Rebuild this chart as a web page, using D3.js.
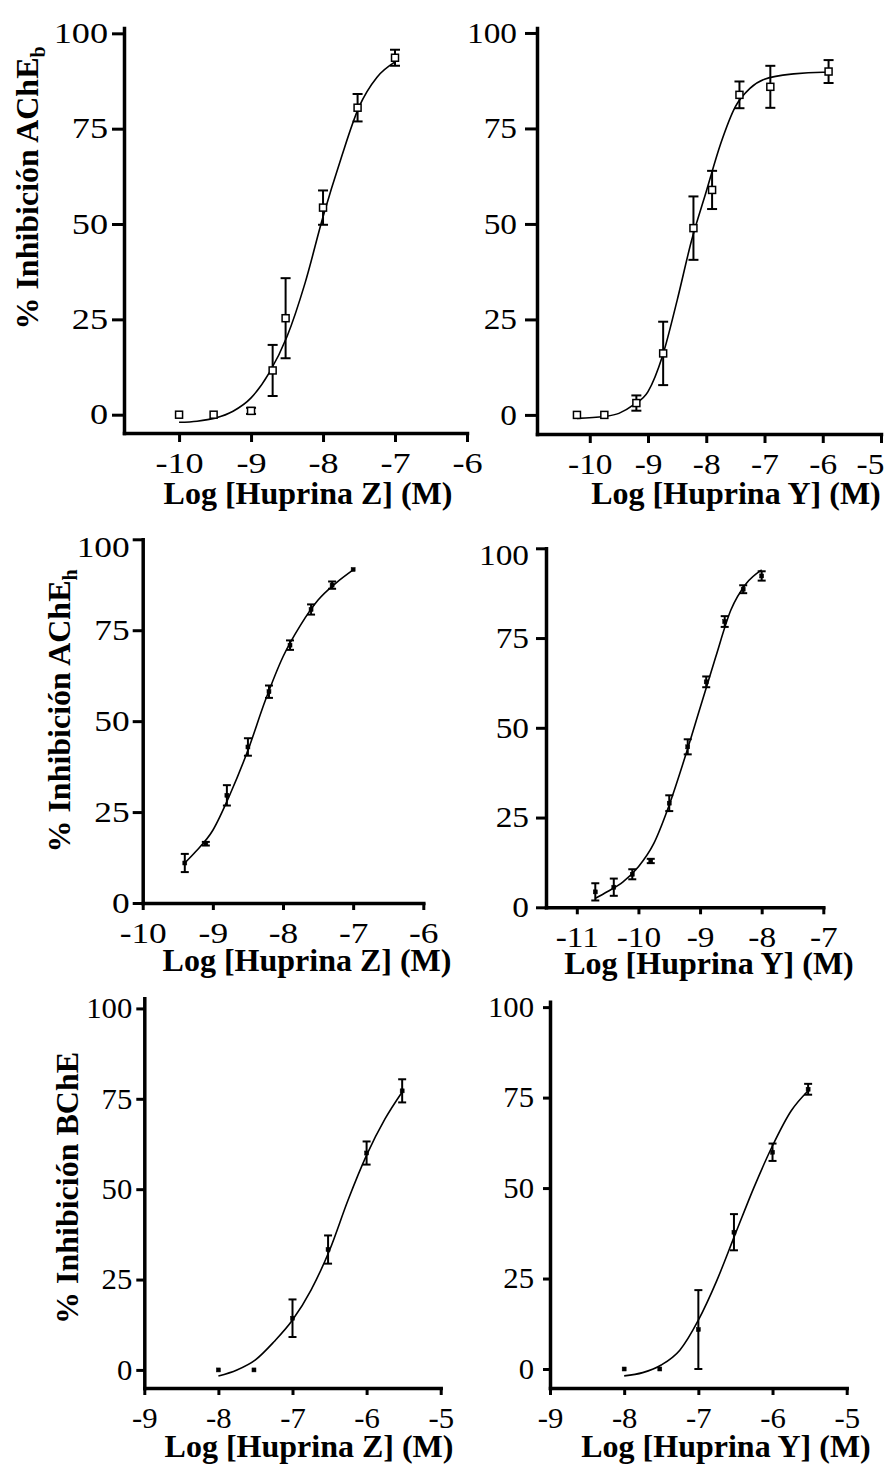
<!DOCTYPE html>
<html lang="es">
<head>
<meta charset="UTF-8">
<title>% Inhibición AChE / BChE - Huprinas</title>
<script src="https://d3js.org/d3.v7.min.js"></script>
<style>
  body { margin: 0; background: #fff; }
  svg { display: block; font-family: "Liberation Serif", "Times New Roman", serif; }
</style>
</head>
<body>
<svg width="889" height="1465"></svg>
<script>
// ---- values ----
const yTickVals = [0, 25, 50, 75, 100];

// AChE bovina - Huprina Z
const bovZx = [-10, -9.52, -9, -8.7, -8.52, -8, -7.52, -7];
const bovZy = [0, 0, 1, 11.6, 25.3, 54.3, 80.5, 93.6];
const bovZe = [0, 0, 0.8, 6.7, 10.5, 4.5, 3.6, 2.1];
const bovZfitX = [-10, -9.75, -9.5, -9.25, -9, -8.75, -8.5, -8.25, -8, -7.75, -7.5, -7.25, -7];
const bovZfitY = [-2.0, -1.7, -0.9, 0.9, 4.4, 10.9, 20.5, 34.5, 51.9, 67.2, 80.7, 88.5, 92.5];

// AChE bovina - Huprina Y
const bovYx = [-10.22, -9.75, -9.2, -8.74, -8.22, -7.9, -7.43, -6.9, -5.9];
const bovYy = [0, 0, 3.1, 16.1, 48.9, 58.9, 83.8, 85.9, 89.9];
const bovYe = [0, 0, 2, 8.3, 8.3, 5, 3.5, 5.5, 3];
const bovYfitX = [-10.22, -9.75, -9.5, -9.25, -9, -8.75, -8.5, -8.25, -8, -7.75, -7.5, -7.25, -7, -6.5, -6, -5.9];
const bovYfitY = [-0.9, -0.4, 0.4, 2.6, 6.1, 15.5, 30, 45.8, 58.5, 71.1, 80.7, 85.5, 87.9, 89.3, 89.7, 89.7];

// AChE humana - Huprina Z
const humZx = [-9.4, -9.1, -8.8, -8.5, -8.2, -7.9, -7.6, -7.3, -7.0];
const humZy = [11.0, 16.3, 29.6, 42.9, 58.1, 70.9, 80.7, 87.4, 91.7];
const humZe = [2.5, 0.5, 2.8, 2.4, 1.7, 1.3, 1.4, 1.0, 0];
const humZfitX = [-9.4, -9.25, -9, -8.75, -8.5, -8.25, -8, -7.75, -7.5, -7.25, -7];
const humZfitY = [11, 14, 20, 30.1, 42, 55.8, 67.7, 76.4, 83.3, 87.9, 91.6];

// AChE humana - Huprina Y
const humYx = [-10.7, -10.4, -10.1, -9.8, -9.5, -9.2, -8.9, -8.6, -8.3, -8.0];
const humYy = [4.3, 5.6, 9.2, 12.9, 29, 44.7, 62.8, 79.6, 88.6, 92.3];
const humYe = [2.4, 2.4, 1.4, 0.6, 2.2, 2.1, 1.5, 1.5, 1.1, 1.3];
const humYfitX = [-10.7, -10.5, -10.25, -10, -9.75, -9.5, -9.25, -9, -8.75, -8.5, -8.25, -8];
const humYfitY = [2.5, 4.4, 7.1, 11.3, 17.8, 28.5, 41.5, 55.5, 69.5, 82.8, 90.2, 94.0];

// BChE - Huprina Z
const buZx = [-8, -7.52, -7, -6.52, -6, -5.52];
const buZy = [0, 0, 14.3, 33.3, 60.0, 77.2];
const buZe = [0, 0, 5.2, 3.9, 3.2, 3.2];
const buZfitX = [-8, -7.75, -7.5, -7.25, -7, -6.75, -6.5, -6.25, -6, -5.75, -5.52];
const buZfitY = [-1.7, 0, 2.8, 7.8, 13.8, 22.1, 33.1, 47, 59.4, 69.5, 76.9];

// BChE - Huprina Y
const buYx = [-8, -7.52, -7, -6.52, -6, -5.52];
const buYy = [0, 0, 10.9, 37.8, 59.9, 77.3];
const buYe = [0, 0, 10.9, 5, 2.4, 1.5];
const buYfitX = [-8, -7.75, -7.5, -7.25, -7, -6.75, -6.5, -6.25, -6, -5.75, -5.52];
const buYfitY = [-1.9, -1.0, 1.1, 5.2, 13.5, 24.5, 37.4, 50.2, 61.7, 71.3, 76.9];

const xTitleZ = "Log [Huprina Z] (M)";
const xTitleY = "Log [Huprina Y] (M)";

// ---- layout of each panel ----
// sx: horizontal stretch of the tick numbers (the original figure is scaled unevenly)
const panels = [
  { x: bovZx, y: bovZy, e: bovZe, fx: bovZfitX, fy: bovZfitY, open: true,
    xDom: [-10.765, -6], yDom: [-4.8, 101.4], left: 124, right: 467, top: 28, bottom: 433,
    xTicks: [-10, -9, -8, -7, -6], ytl: 12, xtl: 9, pad: 4, sx: 1.25, cap: 5,
    xTitle: xTitleZ, xtPos: [308, 504] },
  { x: bovYx, y: bovYy, e: bovYe, fx: bovYfitX, fy: bovYfitY, open: true,
    xDom: [-10.906, -5], yDom: [-5, 101.3], left: 537, right: 881, top: 28, bottom: 434,
    xTicks: [-10, -9, -8, -7, -6, -5], ytl: 12, xtl: 9, pad: 8, sx: 1.15, cap: 5, lastShift: -11,
    xTitle: xTitleY, xtPos: [736, 504] },
  { x: humZx, y: humZy, e: humZe, fx: humZfitX, fy: humZfitY, open: false,
    xDom: [-10, -6], yDom: [0, 100], left: 142.7, right: 423.3, top: 539.3, bottom: 903,
    xTicks: [-10, -9, -8, -7, -6], ytl: 10, xtl: 7, pad: 3, sx: 1.22, cap: 4, topShift: 8,
    xTitle: xTitleZ, xtPos: [307, 971] },
  { x: humYx, y: humYy, e: humYe, fx: humYfitX, fy: humYfitY, open: false,
    xDom: [-11.5, -7], yDom: [0, 100], left: 546, right: 823.3, top: 548.3, bottom: 907.3,
    xTicks: [-11, -10, -9, -8, -7], ytl: 10, xtl: 7, pad: 7, sx: 1.15, cap: 4, topShift: 7,
    xTitle: xTitleY, xtPos: [709, 974] },
  { x: buZx, y: buZy, e: buZe, fx: buZfitX, fy: buZfitY, open: false,
    xDom: [-9, -5], yDom: [-5, 102.8], left: 144.3, right: 440.7, top: 998.3, bottom: 1388,
    xTicks: [-9, -8, -7, -6, -5], ytl: 8, xtl: 7, pad: 4, sx: 1.06, cap: 4,
    xTitle: xTitleZ, xtPos: [309, 1457] },
  { x: buYx, y: buYy, e: buYe, fx: buYfitX, fy: buYfitY, open: false,
    xDom: [-9, -5], yDom: [-5.25, 101.5], left: 550, right: 846.7, top: 1001.7, bottom: 1388,
    xTicks: [-9, -8, -7, -6, -5], ytl: 7, xtl: 7, pad: 9, sx: 1.06, cap: 4,
    xTitle: xTitleY, xtPos: [726, 1457] }
];

const yTitles = [
  { main: "% Inhibición AChE", sub: "b", pos: [38, 188] },
  { main: "% Inhibición AChE", sub: "h", pos: [70, 711] },
  { main: "% Inhibición BChE", sub: null, pos: [78, 1188] }
];

const svg = d3.select("svg");
const tickFont = 29;

function drawPanel(p) {
  const g = svg.append("g");
  const x = d3.scaleLinear().domain(p.xDom).range([p.left, p.right]);
  const y = d3.scaleLinear().domain(p.yDom).range([p.bottom, p.top]);

  // x axis
  const xa = g.append("g")
    .attr("transform", `translate(0,${p.bottom})`)
    .call(d3.axisBottom(x).tickValues(p.xTicks).tickSizeInner(p.xtl).tickSizeOuter(0)
      .tickFormat(d => String(d)));
  // y axis
  const ya = g.append("g")
    .attr("transform", `translate(${p.left},0)`)
    .call(d3.axisLeft(y).tickValues(yTickVals).tickSizeInner(p.ytl).tickSizeOuter(0)
      .tickPadding(p.pad).tickFormat(d => String(d)));

  [xa, ya].forEach(a => {
    a.attr("font-family", null).attr("font-size", null);
    a.select(".domain").attr("stroke-width", 3.5).attr("stroke-linecap", "square");
    a.selectAll(".tick line").attr("stroke-width", 3);
    a.selectAll(".tick text")
      .attr("font-size", tickFont)
      .attr("fill", "#000")
      .attr("transform", `scale(${p.sx},1)`);
  });
  const last = p.xTicks[p.xTicks.length - 1];
  xa.selectAll(".tick text")
    .attr("dy", null)
    .attr("y", 40)
    .attr("x", d => (d === last && p.lastShift) ? p.lastShift / p.sx : 0);
  ya.selectAll(".tick text")
    .attr("x", -(p.ytl + p.pad) / p.sx)
    .attr("dy", d => (d === 100 && p.topShift) ? `${0.32 * tickFont + p.topShift}px` : "0.32em");

  // fitted curve
  const fit = p.fx.map((v, i) => [v, p.fy[i]]);
  g.append("path")
    .datum(fit)
    .attr("fill", "none")
    .attr("stroke", "#000")
    .attr("stroke-width", 1.6)
    .attr("d", d3.line().x(d => x(d[0])).y(d => y(d[1])).curve(d3.curveMonotoneX));

  const pts = p.x.map((v, i) => ({ x: v, y: p.y[i], e: p.e[i] }));

  // error bars
  const eb = g.append("g").attr("stroke", "#000").attr("stroke-width", 2);
  pts.filter(d => d.e > 0).forEach(d => {
    const cx = x(d.x), y1 = y(d.y + d.e), y0 = y(d.y - d.e);
    eb.append("line").attr("x1", cx).attr("x2", cx).attr("y1", y1).attr("y2", y0);
    eb.append("line").attr("x1", cx - p.cap).attr("x2", cx + p.cap).attr("y1", y1).attr("y2", y1);
    eb.append("line").attr("x1", cx - p.cap).attr("x2", cx + p.cap).attr("y1", y0).attr("y2", y0);
  });

  // markers
  const s = p.open ? 7 : 4;
  g.append("g").selectAll("rect")
    .data(pts)
    .join("rect")
    .attr("x", d => x(d.x) - s / 2)
    .attr("y", d => y(d.y) - s / 2)
    .attr("width", s)
    .attr("height", s)
    .attr("fill", p.open ? "#fff" : "#000")
    .attr("stroke", "#000")
    .attr("stroke-width", p.open ? 1.5 : 0.5);

  // x title
  svg.append("text")
    .attr("x", p.xtPos[0])
    .attr("y", p.xtPos[1])
    .attr("text-anchor", "middle")
    .attr("font-weight", "bold")
    .attr("font-size", 32)
    .text(p.xTitle);
}

panels.forEach(drawPanel);

yTitles.forEach(t => {
  const txt = svg.append("text")
    .attr("transform", `translate(${t.pos[0]},${t.pos[1]}) rotate(-90)`)
    .attr("text-anchor", "middle")
    .attr("font-weight", "bold")
    .attr("font-size", 32)
    .text(t.main);
  if (t.sub) txt.append("tspan").attr("font-size", 20).attr("dy", 7).text(t.sub);
});
</script>
</body>
</html>
